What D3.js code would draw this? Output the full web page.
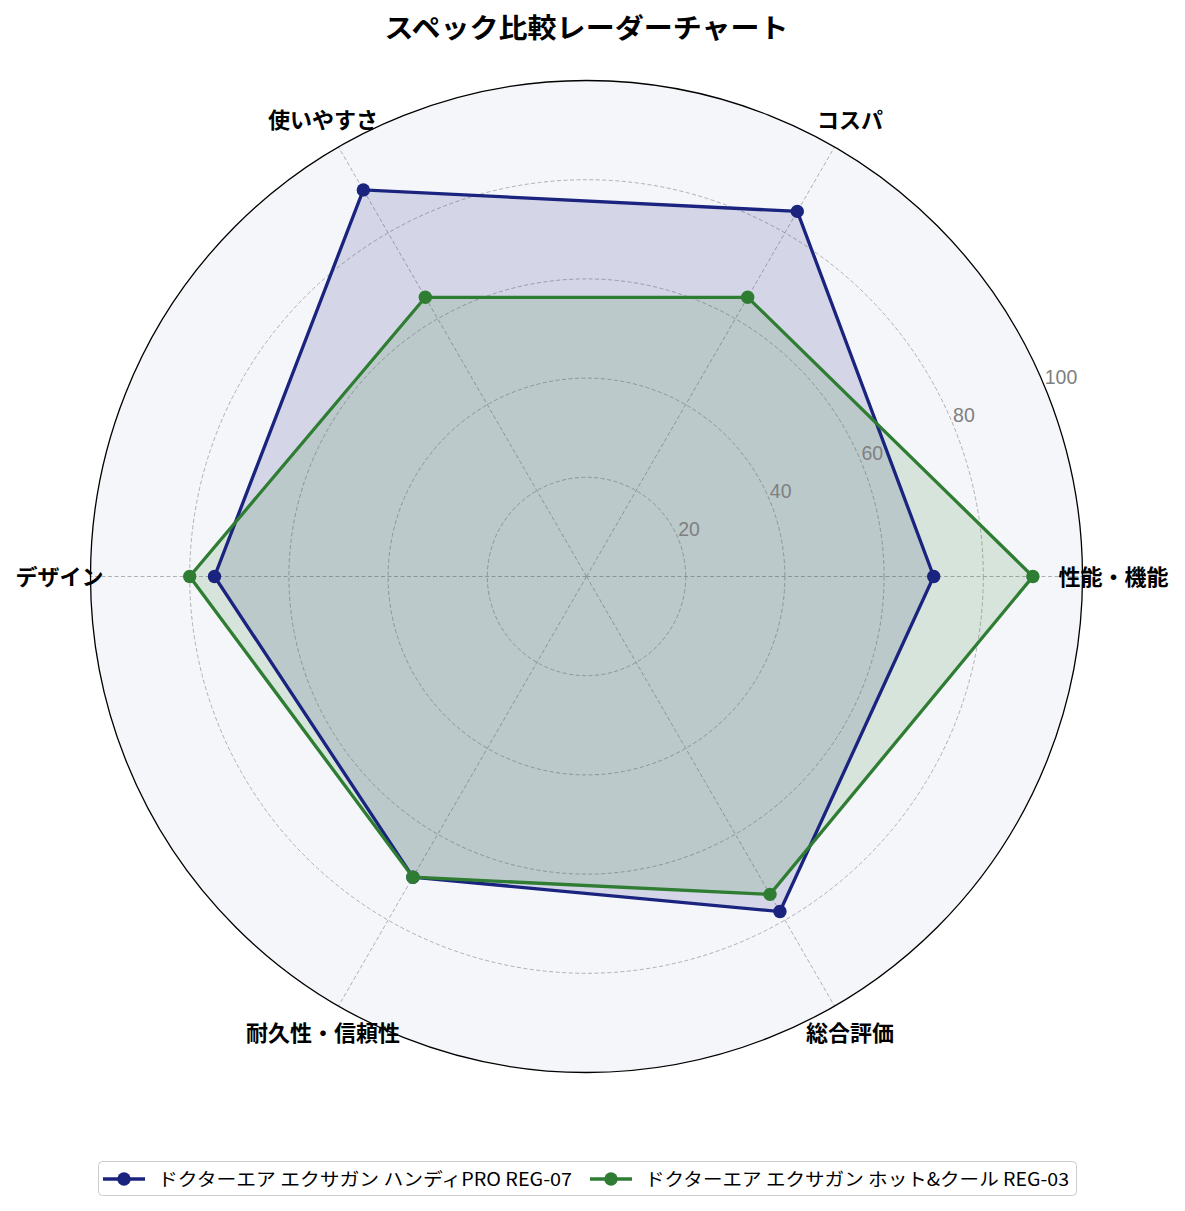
<!DOCTYPE html>
<html>
<head>
    <meta charset="utf-8" />
    <title>スペック比較レーダーチャート</title>
    <style>
        body { margin: 0; background: #fff; }
        text { font-family: "Noto Sans CJK JP", "Noto Sans", sans-serif; }
    </style>
</head>
<body>
<script src="https://d3js.org/d3.v7.min.js"></script>
<script>
    var categories = ["性能・機能", "コスパ", "使いやすさ", "デザイン", "耐久性・信頼性", "総合評価"];
    var seriesNames = ["ドクターエア エクサガン ハンディPRO REG-07", "ドクターエア エクサガン ホット&クール REG-03"];
    var handyPro = [70, 85, 90, 75, 70, 78];
    var hotCool = [90, 65, 65, 80, 70, 74];
    var rTicks = [20, 40, 60, 80, 100];
    var colors = ["#1a237e", "#2e7d32"];

    var width = 1185;
    var height = 1211;
    var cx = 586.5;
    var cy = 576.5;
    var radius = 496;

    var svg = d3.select("body").append("svg")
                .attr("width", width)
                .attr("height", height);

    var r = d3.scaleLinear().domain([0, 100]).range([0, radius]);

    // angle for d3.lineRadial: clockwise from 12 o'clock; first axis points east
    var angle = d3.scaleLinear().domain([0, categories.length]).range([Math.PI / 2, Math.PI / 2 - 2 * Math.PI]);

    var g = svg.append("g").attr("transform", "translate(" + cx + "," + cy + ")");

    g.append("circle")
     .attr("r", radius)
     .attr("fill", "#f5f6fa");

    // rings
    g.append("g").selectAll("circle")
     .data(rTicks.slice(0, -1))
     .enter().append("circle")
     .attr("r", d => r(d))
     .attr("fill", "none")
     .attr("stroke", "#a8a8a8")
     .attr("stroke-width", 0.9)
     .attr("stroke-dasharray", "4,2.5");

    // spokes
    g.append("g").selectAll("line")
     .data(categories)
     .enter().append("line")
     .attr("x1", 0).attr("y1", 0)
     .attr("x2", (d, i) => radius * Math.sin(angle(i)))
     .attr("y2", (d, i) => -radius * Math.cos(angle(i)))
     .attr("stroke", "#a8a8a8")
     .attr("stroke-width", 0.9)
     .attr("stroke-dasharray", "4,2.5");

    var line = d3.lineRadial()
                 .angle((d, i) => angle(i))
                 .radius(d => r(d))
                 .curve(d3.curveLinearClosed);

    var series = [handyPro, hotCool];

    series.forEach(function(vals, k) {
        g.append("path")
         .attr("d", line(vals))
         .attr("fill", colors[k])
         .attr("fill-opacity", 0.15)
         .attr("stroke", "none");
    });

    series.forEach(function(vals, k) {
        var s = g.append("g");
        s.append("path")
         .attr("d", line(vals))
         .attr("fill", "none")
         .attr("stroke", colors[k])
         .attr("stroke-width", 3.3);
        s.selectAll("circle")
         .data(vals)
         .enter().append("circle")
         .attr("cx", (d, i) => r(d) * Math.sin(angle(i)))
         .attr("cy", (d, i) => -r(d) * Math.cos(angle(i)))
         .attr("r", 6.7)
         .attr("fill", colors[k]);
    });

    // outer frame
    g.append("circle")
     .attr("r", radius)
     .attr("fill", "none")
     .attr("stroke", "#000")
     .attr("stroke-width", 1.3);

    // radial tick labels at 22.5deg
    var labelAngle = 22.5 * Math.PI / 180;
    g.append("g").selectAll("text")
     .data(rTicks)
     .enter().append("text")
     .attr("x", d => r(d) * Math.cos(labelAngle))
     .attr("y", d => -r(d) * Math.sin(labelAngle) - 3)
     .attr("fill", "#808080")
     .attr("font-size", 19.5)
     .style("font-family", "'Liberation Sans', Arial, sans-serif")
     .text(d => d);

    // category labels
    g.append("g").selectAll("text")
     .data(categories)
     .enter().append("text")
     .attr("x", (d, i) => 527 * Math.sin(angle(i)))
     .attr("y", (d, i) => -527 * Math.cos(angle(i)) - 2)
     .attr("text-anchor", "middle")
     .attr("dominant-baseline", "central")
     .attr("font-size", 22)
     .attr("font-weight", "bold")
     .attr("fill", "#000")
     .text(d => d);

    // title
    svg.append("text")
       .attr("x", cx)
       .attr("y", 26)
       .attr("text-anchor", "middle")
       .attr("dominant-baseline", "central")
       .attr("font-size", 27)
       .attr("font-weight", "bold")
       .attr("textLength", 404)
       .attr("lengthAdjust", "spacingAndGlyphs")
       .text("スペック比較レーダーチャート");

    // legend
    var legend = svg.append("g");
    legend.append("rect")
          .attr("x", 98.5).attr("y", 1161.5)
          .attr("width", 978).attr("height", 34)
          .attr("rx", 4)
          .attr("fill", "#fff")
          .attr("stroke", "#cccccc")
          .attr("stroke-width", 1);

    var legendX = [103, 590];
    var legendTextLen = [414, 424];
    seriesNames.forEach(function(name, k) {
        var item = legend.append("g").attr("transform", "translate(" + legendX[k] + ",1179)");
        item.append("line")
            .attr("x1", 0).attr("x2", 42)
            .attr("y1", 0).attr("y2", 0)
            .attr("stroke", colors[k])
            .attr("stroke-width", 3.3);
        item.append("circle")
            .attr("cx", 21).attr("cy", 0).attr("r", 6.7)
            .attr("fill", colors[k]);
        item.append("text")
            .attr("x", 55).attr("y", -1)
            .attr("dominant-baseline", "central")
            .attr("font-size", 18)
            .attr("fill", "#000")
            .attr("textLength", legendTextLen[k])
            .attr("lengthAdjust", "spacingAndGlyphs")
            .text(name);
    });
</script>
</body>
</html>
